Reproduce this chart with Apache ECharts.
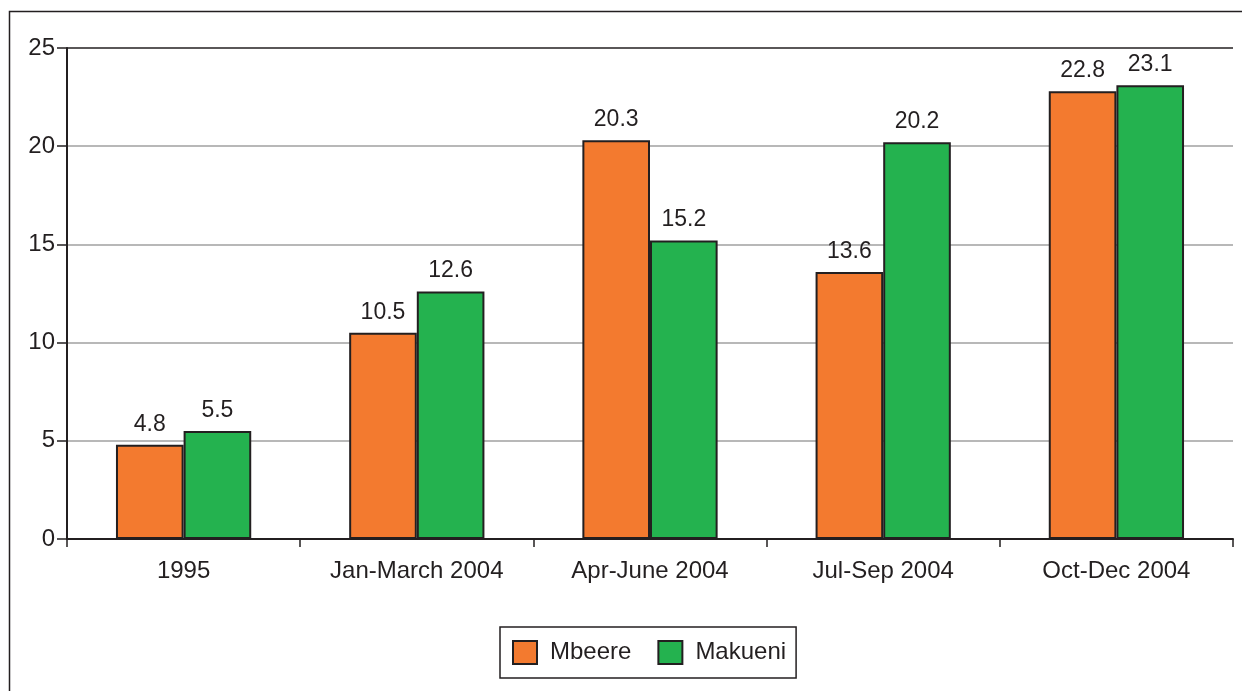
<!DOCTYPE html>
<html><head><meta charset="utf-8">
<script src="https://cdn.jsdelivr.net/npm/echarts@6/dist/echarts.min.js"></script>
<style>html,body{margin:0;padding:0;background:#fff}#c{width:1242px;height:691px}</style>
</head><body><div id="c"></div>
<script>
const categories = ['1995', 'Jan-March 2004', 'Apr-June 2004', 'Jul-Sep 2004', 'Oct-Dec 2004'];
const mbeere = [4.8, 10.5, 20.3, 13.6, 22.8];
const makueni = [5.5, 12.6, 15.2, 20.2, 23.1];
const yTicks = [0, 5, 10, 15, 20, 25];

const FONT = '"Liberation Sans", Arial, sans-serif';
const chart = echarts.init(document.getElementById('c'), null, {renderer: 'canvas'});
const barLabel = {show: true, position: 'top', distance: 9, color: '#231f20', fontSize: 23, fontFamily: FONT};
chart.setOption({
  animation: false,
  graphic: [{type: 'rect', shape: {x: 9.5, y: 11.5, width: 1400, height: 900}, style: {fill: 'none', stroke: '#231f20', lineWidth: 1.5}, silent: true}],
  grid: {left: 67, right: 9, top: 48, bottom: 152, containLabel: false},
  legend: {
    left: 500, top: 627, orient: 'horizontal',
    borderColor: '#231f20', borderWidth: 1.5, padding: [13, 10, 13, 12],
    itemWidth: 24, itemHeight: 23, itemGap: 26, icon: 'rect',
    textStyle: {fontSize: 24, color: '#231f20', fontFamily: FONT, padding: [0, 0, 0, 8]},
    data: ['Mbeere', 'Makueni']
  },
  xAxis: {
    type: 'category', data: categories,
    axisLine: {lineStyle: {color: '#231f20', width: 2}},
    axisTick: {show: true, alignWithLabel: false, length: 8, lineStyle: {color: '#231f20', width: 1.5}},
    axisLabel: {fontSize: 24, color: '#231f20', fontFamily: FONT, margin: 20}
  },
  yAxis: {
    type: 'value', min: yTicks[0], max: yTicks[yTicks.length - 1], interval: 5,
    axisLine: {show: true, lineStyle: {color: '#231f20', width: 2}},
    axisTick: {show: true, length: 10, lineStyle: {color: '#231f20', width: 1.5}},
    axisLabel: {fontSize: 24, color: '#231f20', fontFamily: FONT, margin: 12},
    splitLine: {show: true, lineStyle: {color: ['#231f20', '#a0a0a0', '#a0a0a0', '#a0a0a0', '#a0a0a0', '#231f20'], width: 1.5}}
  },
  series: [
    {name: 'Mbeere', type: 'bar', data: mbeere, barWidth: '29%', barGap: '0%',
     itemStyle: {color: '#f37a2f', borderColor: '#231f20', borderWidth: 2}, label: barLabel},
    {name: 'Makueni', type: 'bar', data: makueni, barWidth: '29%',
     itemStyle: {color: '#24b24f', borderColor: '#231f20', borderWidth: 2}, label: barLabel}
  ]
});
</script></body></html>
